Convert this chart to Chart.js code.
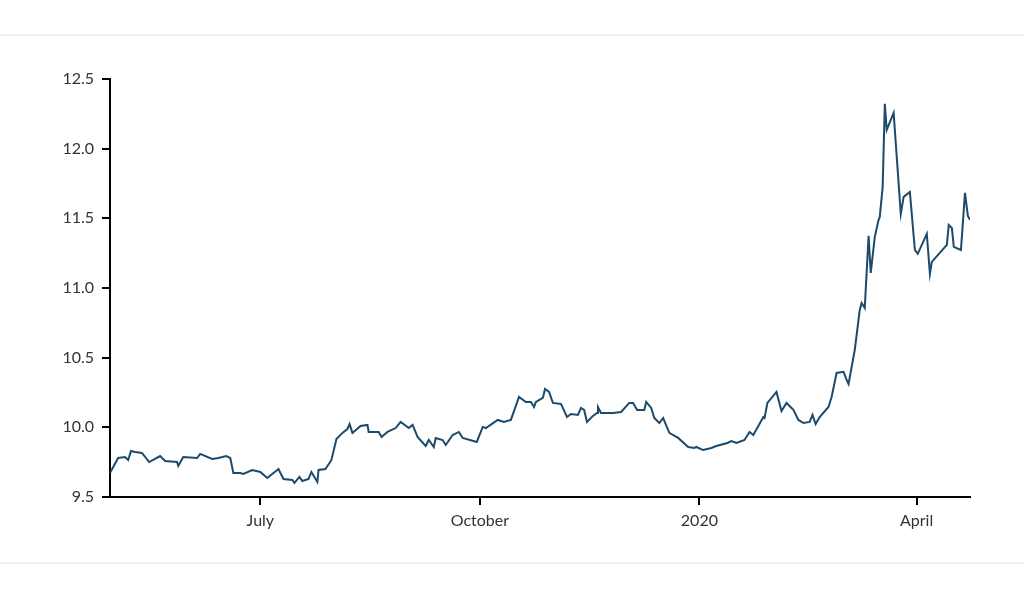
<!DOCTYPE html>
<html><head><meta charset="utf-8">
<script src="https://cdn.jsdelivr.net/npm/chart.js@4"></script>
<style>
html,body{margin:0;padding:0;background:#fff;}
#wrap{position:relative;width:1024px;height:615px;}
.hr{position:absolute;left:0;width:1024px;height:0;border-top:2px solid #f0f0f0;}
canvas{position:absolute;left:0;top:0;}
</style></head>
<body><div id="wrap"><div class="hr" style="top:34px"></div><div class="hr" style="top:562px"></div><canvas id="c" width="1024" height="615"></canvas></div>
<script>
// days relative to 2019-07-01
const days = [-63,-59.6,-56.7,-55.4,-54.2,-52.5,-49.6,-46.6,-42,-39.9,-34.9,-34.4,-32.3,-26.5,-25.2,-20.2,-17.6,-14.3,-12.6,-11.3,-8.4,-7.1,-3.4,0,2.9,7.6,9.7,13.4,14.3,16.4,17.6,20.2,21.4,23.9,24.4,27.3,29.8,31.9,34.4,36.5,37.4,38.6,42,44.9,45.4,49.6,50.8,53.3,56.7,58.8,62.2,63.8,65.9,69.3,70.6,72.7,73.5,76.4,77.7,80.6,83.2,84.8,90.7,93.2,94.5,99.5,102.1,105,108.4,111.3,113.4,114.7,115.5,118.4,119.3,121,122.6,126,128.5,130.2,133.1,134.4,135.7,136.9,139.4,141.1,141.5,142.8,147.8,151.2,154.6,156.2,157.9,160.9,161.7,163.8,165.1,167.2,168.8,171.4,175.1,179.3,181.9,182.7,185.6,189,191.1,195.7,197.4,199.5,202.9,205,206.6,210.8,211.3,212.5,216.3,218.4,220.5,223.4,225.5,227.6,230.2,231.4,232.7,234.4,238.1,239.4,241.5,244.4,245.7,246.5,249.1,251.2,252,253.3,254.9,255.8,257.5,259.1,259.6,260.8,261.7,262.5,265.4,266.7,268.4,269.6,272.2,274.3,275.5,279.3,280.6,281.4,287.7,288.5,289.8,290.6,293.6,295.3,296.5,297.4];
const values = [9.672,9.780,9.787,9.766,9.830,9.823,9.816,9.751,9.794,9.758,9.751,9.723,9.787,9.780,9.809,9.773,9.780,9.794,9.780,9.672,9.672,9.665,9.694,9.680,9.636,9.701,9.629,9.622,9.601,9.644,9.615,9.629,9.680,9.608,9.694,9.701,9.766,9.916,9.960,9.988,10.024,9.960,10.010,10.017,9.967,9.967,9.931,9.967,9.995,10.039,9.995,10.017,9.931,9.866,9.909,9.859,9.924,9.909,9.873,9.945,9.967,9.924,9.895,10.003,9.995,10.053,10.039,10.053,10.218,10.182,10.182,10.146,10.182,10.211,10.275,10.254,10.175,10.168,10.074,10.096,10.089,10.139,10.125,10.039,10.082,10.103,10.146,10.103,10.103,10.110,10.175,10.175,10.125,10.125,10.182,10.139,10.067,10.031,10.067,9.960,9.924,9.859,9.852,9.859,9.837,9.852,9.866,9.888,9.902,9.888,9.909,9.967,9.945,10.074,10.067,10.175,10.254,10.117,10.175,10.125,10.053,10.031,10.039,10.089,10.024,10.074,10.146,10.218,10.390,10.398,10.340,10.311,10.555,10.843,10.893,10.857,11.374,11.108,11.367,11.489,11.510,11.726,12.322,12.135,12.257,11.941,11.532,11.654,11.690,11.273,11.245,11.388,11.101,11.187,11.309,11.453,11.431,11.295,11.273,11.683,11.518,11.489];
const xTickDays = [0,92,184,275];
const xTickLabels = ['July','October','2020','April'];
const yTicks = [9.5,10,10.5,11,11.5,12,12.5];
const pts = days.map((d,i)=>({x:d,y:values[i]}));
const font = {family:'Lato',size:16};
new Chart(document.getElementById('c'),{
  type:'line',
  data:{datasets:[{data:pts,borderColor:'#1d4a6b',borderWidth:2,pointRadius:0,tension:0,fill:false}]},
  options:{
    responsive:false,animation:false,
    layout:{padding:{top:79,right:54,bottom:58,left:0}},
    plugins:{legend:{display:false},tooltip:{enabled:false}},
    scales:{
      x:{type:'linear',min:days[0],max:days[days.length-1],
        afterBuildTicks:s=>{s.ticks=xTickDays.map(v=>({value:v}));},
        afterFit:s=>{s.height=60;},
        grid:{display:true,drawOnChartArea:false,drawTicks:true,tickLength:8,lineWidth:2,color:'#000'},
        border:{color:'#000',width:2},
        ticks:{color:'#333',font,padding:6,maxRotation:0,autoSkip:false,callback:(v)=>{const i=xTickDays.indexOf(v);return i>=0?xTickLabels[i]:'';}}},
      y:{min:9.5,max:12.5,
        afterBuildTicks:s=>{s.ticks=yTicks.map(v=>({value:v}));},
        afterFit:s=>{s.width=110;},
        grid:{display:true,drawOnChartArea:false,drawTicks:true,tickLength:8,lineWidth:2,color:'#000'},
        border:{color:'#000',width:2},
        ticks:{color:'#333',font,padding:8,callback:v=>Number(v).toFixed(1)}}
    }
  }
});
</script></body></html>
